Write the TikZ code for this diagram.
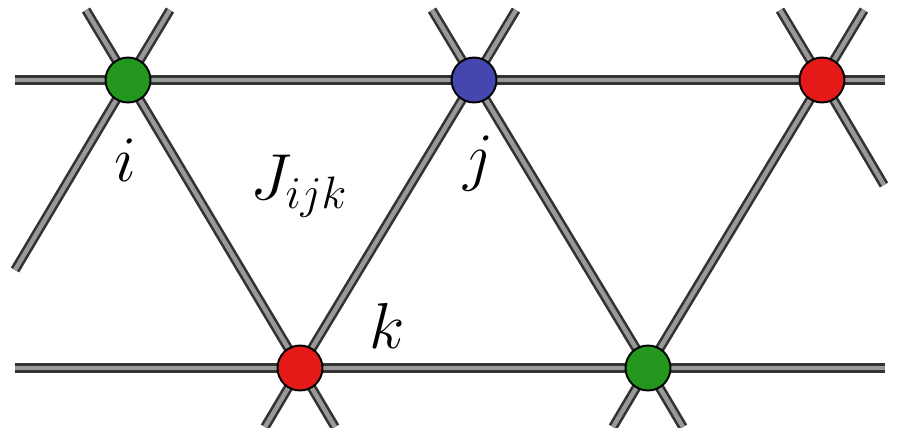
\documentclass[tikz,border=0pt]{standalone}
\usepackage{fix-cm}
\usepackage{amsmath}
\usepackage{xcolor}
\usepackage{tikz}
\usetikzlibrary{backgrounds}
\definecolor{sitegreen}{HTML}{23961E}
\definecolor{siteblue}{HTML}{4646AF}
\definecolor{sitered}{HTML}{E61919}
\tikzset{
  bond/.style={draw=black!80, line width=1.5pt, double=gray!80, double distance=2.5pt},
  site/.style={circle, draw=black, line width=1.1pt, inner sep=0pt, minimum size=0.9cm},
  lbl/.style={inner sep=0pt, font=\fontsize{37}{44}\selectfont}
}

\begin{document}
\begin{tikzpicture}[x=0.02cm, y=-0.02cm]
  \useasboundingbox (0,0) rectangle (900,427);
  % sites
  \node[site, fill=sitegreen] (i) at (128,80) {};
  \node[site, fill=siteblue] (j) at (474,80) {};
  \node[site, fill=sitered] (r) at (822,80) {};
  \node[site, fill=sitered] (k) at (300,368) {};
  \node[site, fill=sitegreen] (g) at (648,368) {};
  % labels
  \node[lbl, anchor=base] (li) at (125,181) {$i$};
  \node[lbl, anchor=base] (lj) at (478,178) {$j$};
  \node[lbl, anchor=base west] (lJ) at (250,199) {$J_{ijk}$};
  \node[lbl, anchor=base] (lk) at (387,348) {$k$};
  % free ends
  \coordinate (a0) at (15,80);   \coordinate (a1) at (885,80);
  \coordinate (b0) at (15,368);  \coordinate (b1) at (885,368);
  \coordinate (iul) at (86,10);  \coordinate (iur) at (170,10);  \coordinate (idl) at (15,270);
  \coordinate (jul) at (432,10); \coordinate (jur) at (516,10);
  \coordinate (rul) at (780,10); \coordinate (rur) at (864,10);  \coordinate (rdr) at (884,185);
  \coordinate (kdl) at (265,427); \coordinate (kdr) at (335,427);
  \coordinate (gdl) at (613,427); \coordinate (gdr) at (683,427);
  % bonds
  \begin{scope}[on background layer]
    \draw[bond] (a0) -- (i.center) -- (j.center) -- (r.center) -- (a1);
    \draw[bond] (b0) -- (k.center) -- (g.center) -- (b1);
    \draw[bond] (iul) -- (i.center) -- (k.center) -- (kdr);
    \draw[bond] (iur) -- (i.center) -- (idl);
    \draw[bond] (jul) -- (j.center) -- (g.center) -- (gdr);
    \draw[bond] (jur) -- (j.center) -- (k.center) -- (kdl);
    \draw[bond] (rul) -- (r.center) -- (rdr);
    \draw[bond] (rur) -- (r.center) -- (g.center) -- (gdl);
  \end{scope}
\end{tikzpicture}
\end{document}
